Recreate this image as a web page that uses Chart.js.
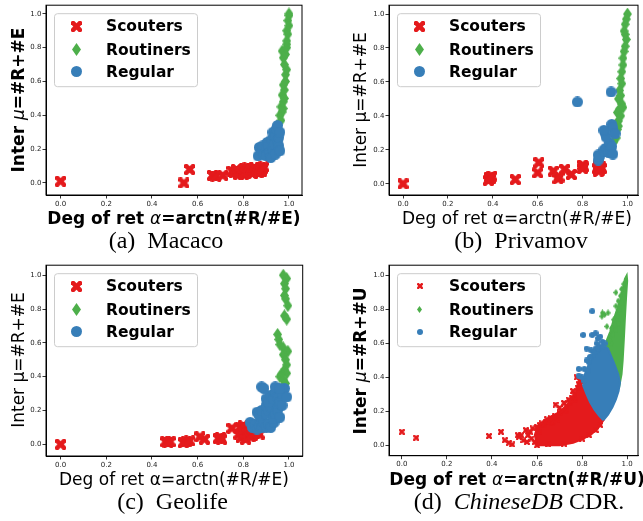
<!DOCTYPE html>
<html>
<head>
<meta charset="utf-8">
<script src="https://cdn.jsdelivr.net/npm/chart.js@4.4.1/dist/chart.umd.min.js"></script>
<style>
  body { margin: 0; width: 643px; height: 521px; background: #fff; overflow: hidden; position: relative; font-family: "DejaVu Sans", sans-serif; }
  canvas { position: absolute; }
  .lbl { position: absolute; white-space: nowrap; color: #000; font-size: 17px; line-height: 1; transform: translate(-50%, -50%); }
  .b { font-weight: bold; }
  .rot { transform: translate(-50%, -50%) rotate(-90deg); }
  .lbl i { font-weight: normal; }
  .cap { position: absolute; white-space: nowrap; font-family: "Liberation Serif", "Times New Roman", serif; font-size: 24px; line-height: 1; transform: translate(-50%, -50%); }
</style>
</head>
<body>
<canvas id="chartA" width="320" height="260" style="left:0;top:0"></canvas>
<canvas id="chartB" width="323" height="260" style="left:320px;top:0"></canvas>
<canvas id="chartC" width="320" height="261" style="left:0;top:260px"></canvas>
<canvas id="chartD" width="323" height="261" style="left:320px;top:260px"></canvas>

<div class="lbl b rot" style="left:18px;top:100px">Inter <i>μ</i>=#R+#E</div>
<div class="lbl b" style="left:174px;top:218px">Deg of ret <i>α</i>=arctn(#R/#E)</div>
<div class="cap" style="left:166px;top:240px">(a)&nbsp; Macaco</div>

<div class="lbl rot" style="left:360px;top:100px">Inter μ=#R+#E</div>
<div class="lbl" style="left:517px;top:218px">Deg of ret α=arctn(#R/#E)</div>
<div class="cap" style="left:521px;top:240px">(b)&nbsp; Privamov</div>

<div class="lbl rot" style="left:17.5px;top:360px">Inter μ=#R+#E</div>
<div class="lbl" style="left:174px;top:479px">Deg of ret α=arctn(#R/#E)</div>
<div class="cap" style="left:172.5px;top:501px">(c)&nbsp; Geolife</div>

<div class="lbl b rot" style="left:360px;top:360.5px">Inter <i>μ</i>=#R+#U</div>
<div class="lbl b" style="left:517px;top:479px">Deg of ret <i>α</i>=arctn(#R/#U)</div>
<div class="cap" style="left:519px;top:501px">(d)&nbsp; <i>ChineseDB</i> CDR.</div>

<script>
// ---- data: [alpha, mu] pairs ----
const seriesNames = ["Scouters", "Routiners", "Regular"];
const tickValues = [0, 0.2, 0.4, 0.6, 0.8, 1.0];

const macacoScouters = [[0.0,0.01],[0.54,0.0],[0.565,0.08],[0.665,0.045],[0.68,0.04],[0.71,0.045],[0.75,0.07],[0.76,0.06],[0.77,0.08],[0.775,0.065],[0.78,0.05],[0.785,0.07],[0.79,0.06],[0.8,0.07],[0.8,0.05],[0.805,0.085],[0.81,0.06],[0.82,0.07],[0.82,0.09],[0.83,0.065],[0.835,0.08],[0.84,0.055],[0.845,0.075],[0.85,0.09],[0.855,0.065],[0.86,0.08],[0.865,0.06],[0.87,0.075],[0.875,0.09],[0.88,0.07],[0.885,0.085],[0.89,0.095]];
const macacoRoutiners = [[0.965,0.37],[0.96,0.4],[0.97,0.42],[0.965,0.45],[0.975,0.44],[0.975,0.48],[0.97,0.52],[0.98,0.5],[0.98,0.55],[0.975,0.58],[0.985,0.6],[0.985,0.64],[0.99,0.67],[0.98,0.7],[0.975,0.74],[0.97,0.78],[0.985,0.76],[0.99,0.8],[0.99,0.82],[0.99,0.84],[0.995,0.88],[0.99,0.9],[1.0,0.93],[0.995,0.96],[1.0,0.99],[1.0,1.0]];
const macacoRegular = [[0.865,0.16],[0.87,0.21],[0.88,0.19],[0.885,0.22],[0.89,0.17],[0.9,0.2],[0.9,0.16],[0.905,0.24],[0.91,0.22],[0.915,0.18],[0.92,0.15],[0.925,0.26],[0.93,0.2],[0.93,0.3],[0.935,0.23],[0.94,0.17],[0.94,0.28],[0.945,0.32],[0.95,0.25],[0.95,0.34],[0.955,0.22],[0.955,0.27],[0.96,0.3],[0.96,0.19]];

const privamovScouters = [[0.0,0.0],[0.38,0.02],[0.385,0.04],[0.39,0.03],[0.395,0.045],[0.5,0.025],[0.6,0.065],[0.605,0.125],[0.67,0.075],[0.69,0.03],[0.695,0.04],[0.72,0.085],[0.75,0.055],[0.8,0.11],[0.8,0.09],[0.805,0.1],[0.865,0.09],[0.87,0.11],[0.875,0.08],[0.88,0.1],[0.885,0.09],[0.87,0.075]];
const privamovRoutiners = [[1.0,1.0],[0.995,0.97],[0.99,0.94],[0.985,0.9],[0.99,0.88],[0.995,0.85],[0.99,0.81],[0.985,0.78],[0.98,0.74],[0.98,0.7],[0.975,0.66],[0.97,0.62],[0.975,0.59],[0.965,0.55],[0.97,0.52],[0.96,0.5],[0.975,0.47],[0.98,0.45],[0.965,0.44],[0.955,0.42],[0.97,0.4],[0.96,0.37],[0.95,0.35],[0.96,0.34],[0.955,0.32],[0.945,0.3],[0.95,0.27],[0.94,0.25]];
const privamovRegular = [[0.777,0.482],[0.927,0.541],[0.87,0.17],[0.87,0.14],[0.875,0.16],[0.895,0.2],[0.9,0.19],[0.905,0.21],[0.915,0.185],[0.92,0.24],[0.925,0.2],[0.93,0.22],[0.935,0.175],[0.9,0.3],[0.905,0.275],[0.93,0.35],[0.935,0.33],[0.945,0.295],[0.895,0.315]];

const geolifeScouters = [[0.0,0.0],[0.46,0.015],[0.47,0.01],[0.48,0.015],[0.537,0.01],[0.55,0.015],[0.565,0.02],[0.61,0.045],[0.63,0.03],[0.69,0.035],[0.7,0.04],[0.705,0.03],[0.75,0.095],[0.78,0.06],[0.785,0.1],[0.79,0.04],[0.8,0.08],[0.8,0.11],[0.805,0.05],[0.81,0.03],[0.815,0.09],[0.82,0.065],[0.825,0.1],[0.83,0.045],[0.835,0.075],[0.84,0.055],[0.845,0.09],[0.85,0.065],[0.86,0.075],[0.87,0.06]];
const geolifeRoutiners = [[0.975,1.0],[0.99,0.98],[0.98,0.95],[0.985,0.92],[0.98,0.88],[0.985,0.86],[0.995,0.82],[0.98,0.76],[0.99,0.74],[0.95,0.65],[0.955,0.62],[0.96,0.59],[0.975,0.57],[0.995,0.55],[0.975,0.53],[0.985,0.5],[0.99,0.47],[0.98,0.44],[0.99,0.42],[0.965,0.41],[0.96,0.4],[0.975,0.38],[0.985,0.36]];
const geolifeRegular = [[0.83,0.13],[0.84,0.1],[0.85,0.12],[0.86,0.09],[0.87,0.11],[0.88,0.1],[0.89,0.13],[0.9,0.1],[0.91,0.12],[0.92,0.1],[0.935,0.13],[0.86,0.19],[0.87,0.17],[0.88,0.2],[0.9,0.18],[0.9,0.23],[0.91,0.2],[0.92,0.22],[0.93,0.15],[0.94,0.18],[0.95,0.2],[0.95,0.24],[0.96,0.16],[0.9,0.27],[0.91,0.25],[0.92,0.29],[0.93,0.27],[0.94,0.31],[0.95,0.28],[0.96,0.25],[0.97,0.23],[0.97,0.3],[0.98,0.33],[0.99,0.28],[0.88,0.34],[0.89,0.33],[0.94,0.34],[0.96,0.33]];

// CDR: dense clouds given by their outline, plus the loose points around them
const cdrScoutersCloud = [[0.6,0.0],[0.7,0.0],[0.76,0.015],[0.8,0.035],[0.84,0.065],[0.87,0.1],[0.895,0.148],[0.875,0.175],[0.855,0.21],[0.835,0.255],[0.82,0.3],[0.805,0.34],[0.79,0.37],[0.78,0.34],[0.77,0.3],[0.75,0.26],[0.72,0.22],[0.69,0.19],[0.65,0.16],[0.62,0.13],[0.6,0.1],[0.59,0.06],[0.6,0.0]];
const cdrRegularCloud = [[0.895,0.148],[0.915,0.18],[0.935,0.225],[0.95,0.27],[0.962,0.32],[0.968,0.37],[0.96,0.42],[0.94,0.49],[0.915,0.57],[0.905,0.58],[0.89,0.57],[0.87,0.55],[0.85,0.52],[0.83,0.48],[0.815,0.43],[0.805,0.38],[0.805,0.35],[0.82,0.3],[0.835,0.255],[0.855,0.21],[0.875,0.175],[0.895,0.148]];
const cdrRoutinersCloud = [[0.905,0.58],[0.915,0.57],[0.94,0.49],[0.96,0.42],[0.968,0.37],[0.975,0.42],[0.98,0.5],[0.985,0.62],[0.99,0.75],[0.995,0.87],[1.0,0.97],[0.998,1.0],[0.99,0.98],[0.98,0.92],[0.97,0.86],[0.955,0.8],[0.94,0.74],[0.925,0.67],[0.91,0.62],[0.905,0.58]];
const cdrScouters = [[0.0,0.08],[0.064,0.045],[0.387,0.055],[0.44,0.08],[0.457,0.03],[0.475,0.015],[0.49,0.005],[0.515,0.06],[0.52,0.05],[0.53,0.06],[0.55,0.09],[0.555,0.02],[0.54,0.03],[0.56,0.06],[0.57,0.08],[0.575,0.04],[0.58,0.1],[0.59,0.02],[0.6,0.11],[0.6,0.0],[0.61,0.08],[0.615,0.12],[0.62,0.13],[0.63,0.12],[0.64,0.14],[0.645,0.153],[0.65,0.005],[0.66,0.16],[0.665,0.13],[0.67,0.14],[0.68,0.17],[0.682,0.24],[0.69,0.15],[0.7,0.22],[0.7,0.19],[0.71,0.2],[0.72,0.25],[0.72,0.01],[0.73,0.2],[0.73,0.23],[0.74,0.27],[0.745,0.25],[0.755,0.28],[0.76,0.32],[0.765,0.3],[0.77,0.27],[0.776,0.4],[0.78,0.34],[0.785,0.36],[0.79,0.38],[0.8,0.04],[0.83,0.06],[0.86,0.09],[0.88,0.12]];
const cdrRoutiners = [[0.95,0.9],[0.89,0.78],[0.888,0.76],[0.9,0.77],[0.915,0.78],[0.91,0.7],[0.93,0.69],[0.95,0.68],[0.94,0.74],[0.955,0.76],[0.96,0.85],[0.97,0.88],[0.965,0.8],[0.985,0.95],[0.975,0.92],[0.95,0.82],[0.93,0.6],[0.92,0.62],[0.935,0.65],[0.96,0.72],[0.975,0.84]];
const cdrRegular = [[0.845,0.79],[0.805,0.65],[0.845,0.65],[0.86,0.66],[0.87,0.63],[0.865,0.6],[0.88,0.64],[0.89,0.61],[0.82,0.57],[0.84,0.56],[0.86,0.57],[0.785,0.45],[0.785,0.41],[0.81,0.38],[0.825,0.44],[0.85,0.53],[0.83,0.49],[0.875,0.58],[0.9,0.6],[0.8,0.4],[0.81,0.45],[0.82,0.5],[0.835,0.52],[0.855,0.55],[0.87,0.57],[0.89,0.58]];

// ---- marker images (matplotlib-like X, thin diamond, circle) ----
const RED = "#e41a1c", GREEN = "#4daf4a", BLUE = "#377eb8";

function markX(s, col) {
  const c = document.createElement("canvas");
  c.width = c.height = s;
  const g = c.getContext("2d");
  g.fillStyle = col;
  g.translate(s / 2, s / 2);
  g.rotate(Math.PI / 4);
  const L = s * 1.3, T = s * 0.42;
  g.fillRect(-L / 2, -T / 2, L, T);
  g.fillRect(-T / 2, -L / 2, T, L);
  return c;
}
function markD(w, h, col) {
  const c = document.createElement("canvas");
  c.width = w; c.height = h;
  const g = c.getContext("2d");
  g.fillStyle = col;
  g.beginPath();
  g.moveTo(w / 2, 0); g.lineTo(w, h / 2); g.lineTo(w / 2, h); g.lineTo(0, h / 2);
  g.closePath(); g.fill();
  return c;
}
function markO(s, col) {
  const c = document.createElement("canvas");
  c.width = c.height = s;
  const g = c.getContext("2d");
  g.fillStyle = col;
  g.beginPath(); g.arc(s / 2, s / 2, s / 2, 0, Math.PI * 2); g.fill();
  return c;
}

const bigMarks = [markX(11, RED), markD(9, 13, GREEN), markO(11, BLUE)];
const smallMarks = [markX(6, RED), markD(5, 7, GREEN), markO(6, BLUE)];

const pts = arr => arr.map(p => ({ x: p[0], y: p[1] }));

// ---- plugins ----
const framePlugin = {
  id: "frame",
  afterDraw(chart) {
    const { ctx, chartArea: a } = chart;
    ctx.save();
    ctx.strokeStyle = "#000";
    ctx.lineWidth = 1;
    ctx.strokeRect(a.left, a.top, a.right - a.left, a.bottom - a.top);
    ctx.restore();
  }
};

const boxLegend = {
  id: "boxLegend",
  afterDraw(chart, args, o) {
    const { ctx, chartArea: a } = chart;
    const x0 = a.left + o.x, y0 = a.top + o.y;
    ctx.save();
    ctx.beginPath();
    ctx.roundRect(x0 + 0.5, y0 + 0.5, o.w, o.h, 3);
    ctx.fillStyle = "rgba(255,255,255,0.8)";
    ctx.fill();
    ctx.strokeStyle = "#cccccc";
    ctx.lineWidth = 1;
    ctx.stroke();
    ctx.font = "bold 15.5px 'DejaVu Sans'";
    ctx.fillStyle = "#000";
    ctx.textBaseline = "middle";
    chart.data.datasets.filter(d => d.inLegend).forEach((d, i) => {
      const img = d.pointStyle, yy = y0 + o.rows[i];
      ctx.drawImage(img, Math.round(x0 + o.mx - img.width / 2), Math.round(yy - img.height / 2));
      ctx.fillText(d.label, x0 + o.tx, yy + 1);
    });
    ctx.restore();
  }
};

// ---- chart builder ----
function scatterSet(label, data, img, order) {
  return { label, data: pts(data), pointStyle: img, pointRadius: 4, order, inLegend: true };
}
function cloudSet(data, col, order) {
  return {
    type: "line", label: "", data: pts(data), showLine: true, fill: "shape",
    backgroundColor: col, borderColor: col, borderWidth: 2, tension: 0,
    pointRadius: 0, order, inLegend: false
  };
}

function makeChart(id, datasets, pad, xr, yr) {
  new Chart(document.getElementById(id), {
    type: "scatter",
    data: { datasets },
    options: {
      responsive: false,
      animation: false,
      events: [],
      layout: { padding: pad },
      scales: {
        x: {
          type: "linear", min: xr[0], max: xr[1],
          afterBuildTicks: s => { s.ticks = tickValues.map(v => ({ value: v })); },
          afterFit: s => { s.height = 14; },
          ticks: { font: { family: "DejaVu Sans", size: 7 }, color: "#222", padding: 1, maxRotation: 0,
                   callback: v => v.toFixed(1) },
          grid: { display: true, drawOnChartArea: false, drawTicks: true, tickLength: 3.5, color: "#000", lineWidth: 0.8 },
          border: { display: true, color: "#000", width: 1 }
        },
        y: {
          type: "linear", min: yr[0], max: yr[1],
          afterBuildTicks: s => { s.ticks = tickValues.map(v => ({ value: v })); },
          afterFit: s => { s.width = 24; },
          ticks: { font: { family: "DejaVu Sans", size: 7 }, color: "#222", padding: 1,
                   callback: v => v.toFixed(1) },
          grid: { display: true, drawOnChartArea: false, drawTicks: true, tickLength: 3.5, color: "#000", lineWidth: 0.8 },
          border: { display: true, color: "#000", width: 1 }
        }
      },
      plugins: {
        legend: { display: false },
        tooltip: { enabled: false },
        boxLegend: { x: 8, y: 8, w: 143, h: 73, rows: [13, 36.3, 58.6], mx: 22.7, tx: 52 }
      }
    },
    plugins: [framePlugin, boxLegend]
  });
}

makeChart("chartA", [
  scatterSet(seriesNames[0], macacoScouters, bigMarks[0], 3),
  scatterSet(seriesNames[1], macacoRoutiners, bigMarks[1], 2),
  scatterSet(seriesNames[2], macacoRegular, bigMarks[2], 1)
], { left: 22, top: 5, right: 18, bottom: 51 }, [-0.064, 1.057], [-0.071, 1.051]);

makeChart("chartB", [
  scatterSet(seriesNames[0], privamovScouters, bigMarks[0], 3),
  scatterSet(seriesNames[1], privamovRoutiners, bigMarks[1], 2),
  scatterSet(seriesNames[2], privamovRegular, bigMarks[2], 1)
], { left: 45, top: 5, right: 0.5, bottom: 51 }, [-0.0626, 1.047], [-0.066, 1.052]);

makeChart("chartC", [
  scatterSet(seriesNames[0], geolifeScouters, bigMarks[0], 3),
  scatterSet(seriesNames[1], geolifeRoutiners, bigMarks[1], 2),
  scatterSet(seriesNames[2], geolifeRegular, bigMarks[2], 1)
], { left: 22, top: 4.7, right: 17.3, bottom: 51 }, [-0.064, 1.06], [-0.069, 1.059]);

makeChart("chartD", [
  scatterSet(seriesNames[0], cdrScouters, smallMarks[0], 3),
  scatterSet(seriesNames[1], cdrRoutiners, smallMarks[1], 2),
  scatterSet(seriesNames[2], cdrRegular, smallMarks[2], 1),
  cloudSet(cdrScoutersCloud, RED, 12),
  cloudSet(cdrRoutinersCloud, GREEN, 11),
  cloudSet(cdrRegularCloud, BLUE, 10)
], { left: 45, top: 5, right: 0.5, bottom: 51.3 }, [-0.0567, 1.048], [-0.061, 1.061]);
</script>
</body>
</html>
